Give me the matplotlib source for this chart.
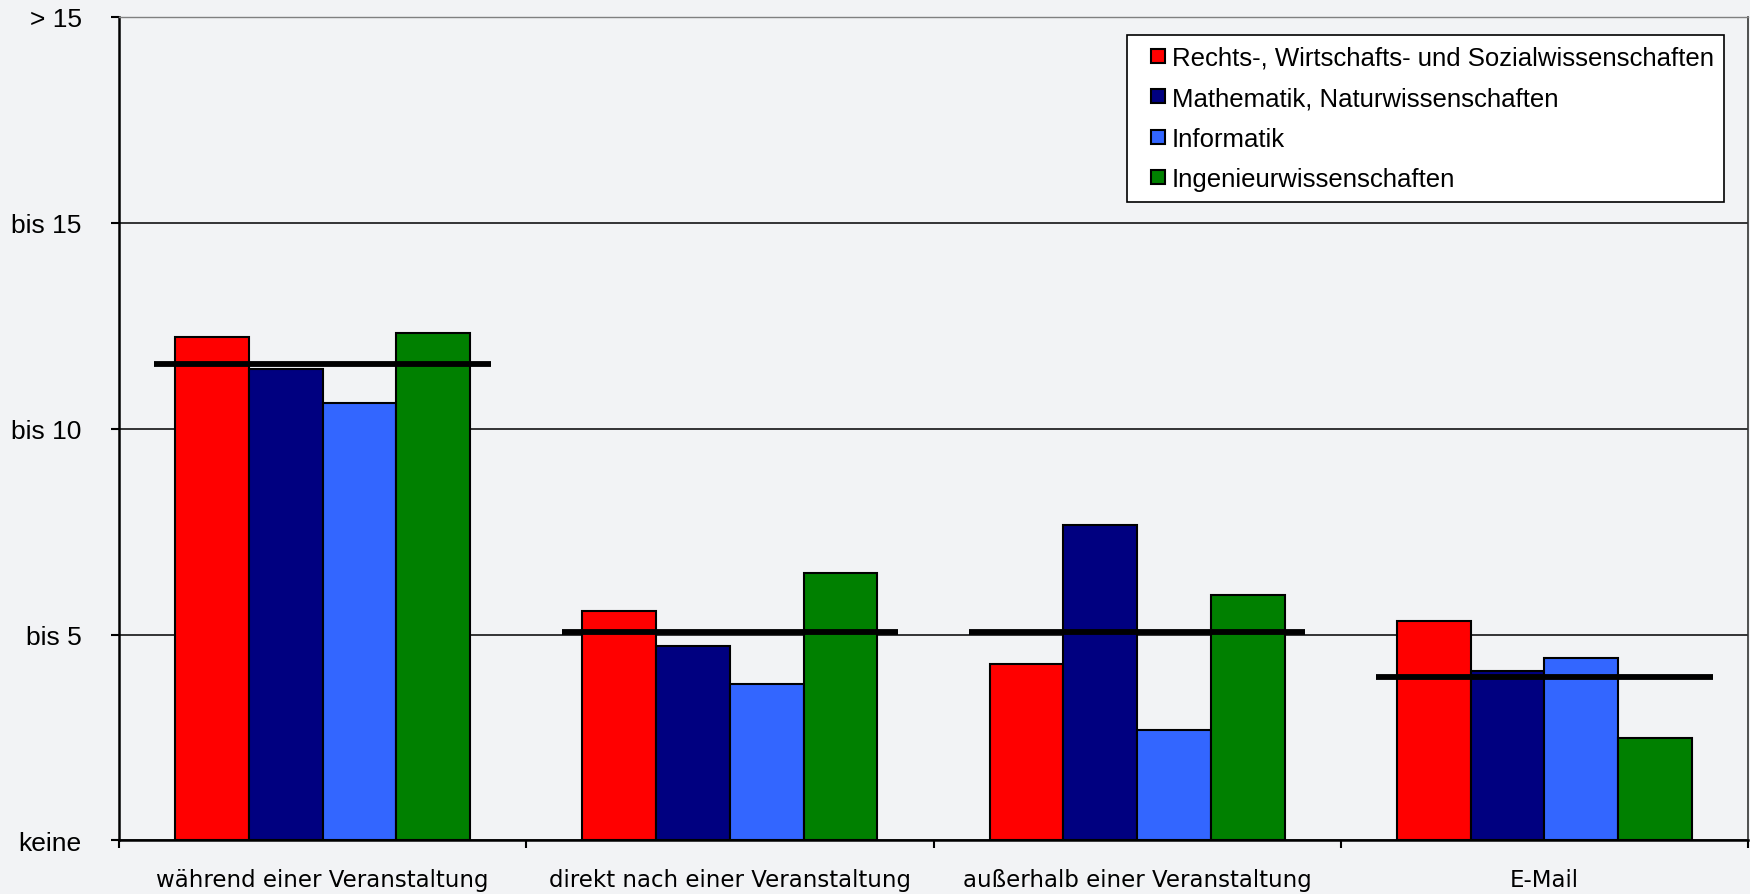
import numpy as np
import matplotlib
matplotlib.use("Agg")
import matplotlib.pyplot as plt
from matplotlib.patches import Rectangle
from matplotlib.container import BarContainer
from matplotlib.legend_handler import HandlerPatch, update_from_first_child

# Anzahl Anfragen je Situation, Skala 0 (keine) bis 20 (> 15)
situations = ["während einer Veranstaltung", "direkt nach einer Veranstaltung",
              "außerhalb einer Veranstaltung", "E-Mail"]
faculties = ["Rechts-, Wirtschafts- und Sozialwissenschaften",
             "Mathematik, Naturwissenschaften", "Informatik", "Ingenieurwissenschaften"]
rechts = [12.22, 5.58, 4.28, 5.34]
mathe = [11.46, 4.72, 7.67, 4.12]
informatik = [10.62, 3.79, 2.68, 4.42]
ingenieur = [12.33, 6.50, 5.96, 2.49]
gesamt = [11.57, 5.07, 5.07, 3.98]
ytick_labels = ["keine", "bis 5", "bis 10", "bis 15", "> 15"]

colors = ["#FF0000", "#000080", "#3366FF", "#008000"]
bg = "#F2F3F5"

fig = plt.figure(figsize=(17.5, 8.95), dpi=100, facecolor=bg)
ax = fig.add_axes([0.068, 0.0598, 0.9309, 0.9202], facecolor=bg)

x = np.arange(len(situations))
width = 0.181
series = [rechts, mathe, informatik, ingenieur]
for i, (vals, name) in enumerate(zip(series, faculties)):
    ax.bar(x + (i - 1.5) * width, vals, width, color=colors[i], edgecolor="black",
           linewidth=1.5, label=name, zorder=3)

# Mittelwert aller Fächer als Querbalken
for xi, m in zip(x, gesamt):
    ax.plot([xi - 0.413, xi + 0.413], [m, m], color="black", lw=4.2,
            solid_capstyle="butt", zorder=4)

ax.set_xlim(-0.5, 3.5)
ax.set_ylim(0, 20)
ax.set_yticks([0, 5, 10, 15, 20])
ax.set_yticklabels(ytick_labels, fontfamily="Liberation Sans", fontsize=19)
ax.yaxis.grid(True, color="black", lw=1.1, zorder=1)
ax.tick_params(axis="y", length=6, width=1.5, pad=21)

ax.set_xticks(x)
ax.set_xticklabels(situations, fontfamily="DejaVu Sans", fontsize=16.5)
ax.set_xticks(np.arange(-0.5, 4.0, 1.0), minor=True)
ax.tick_params(axis="x", which="major", length=0, pad=20)
ax.tick_params(axis="x", which="minor", length=6, width=1.5)

ax.spines["left"].set_linewidth(1.8)
ax.spines["bottom"].set_linewidth(1.8)
ax.spines["top"].set_color("#808080")
ax.spines["top"].set_linewidth(1.0)
ax.spines["right"].set_color("#333333")
ax.spines["right"].set_linewidth(1.2)


# kleines Quadrat rechtsbündig im Handle-Bereich
def square_handle(legend, orig_handle, xdescent, ydescent, width, height, fontsize):
    s = 0.56 * fontsize
    return Rectangle((-xdescent + width - s, -ydescent + (height - s) / 2), s, s)


leg = ax.legend(loc="upper right", bbox_to_anchor=(0.9855, 0.978),
                prop={"family": "Liberation Sans", "size": 18.5},
                frameon=True, fancybox=False, edgecolor="black", facecolor="white",
                framealpha=1, handlelength=1.05, handleheight=0.7, handletextpad=0.25,
                labelspacing=0.64, borderpad=0.42, borderaxespad=0,
                handler_map={BarContainer: HandlerPatch(patch_func=square_handle,
                                                        update_func=update_from_first_child)})
leg.get_frame().set_linewidth(1.2)
leg.set_zorder(5)

fig.savefig("out.png", dpi=100, facecolor=bg)
